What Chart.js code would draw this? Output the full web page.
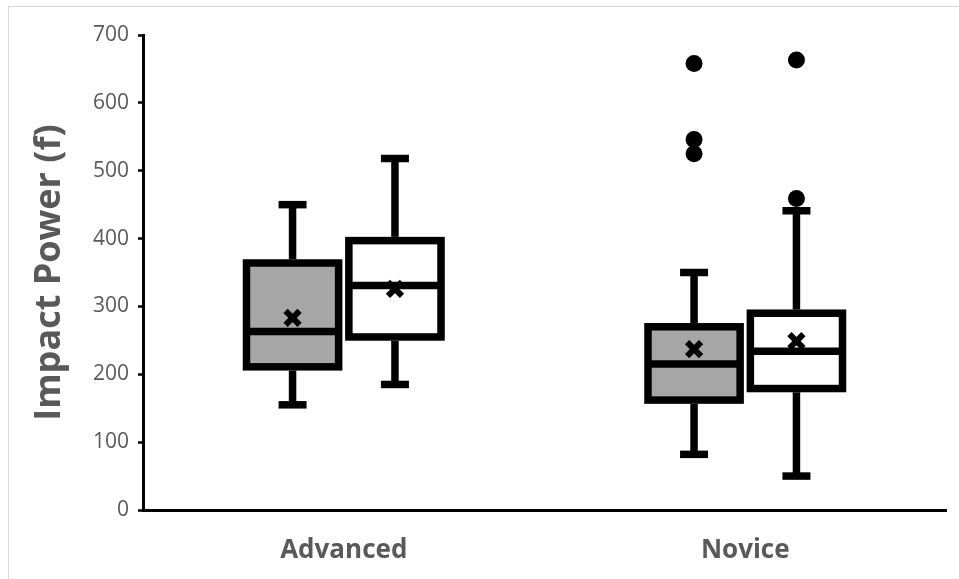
<!DOCTYPE html>
<html>
<head>
<meta charset="utf-8">
<script src="https://cdn.jsdelivr.net/npm/chart.js@4.4.0/dist/chart.umd.min.js"></script>
<style>
  html, body { margin: 0; padding: 0; background: #fff; }
  #wrap { position: relative; width: 959px; height: 579px; overflow: hidden; }
  #frame { position: absolute; left: 8px; top: 6px; right: -2px; bottom: -2px;
           border-top: 1px solid #d9d9d9; border-left: 1px solid #d9d9d9; }
  canvas { position: absolute; left: 0; top: 0; }
</style>
</head>
<body>
<div id="wrap">
  <div id="frame"></div>
  <canvas id="chart" width="959" height="579"></canvas>
</div>
<script>
//Kategorier och axel
const categories = ['Advanced', 'Novice'];
const yTicks = [0, 100, 200, 300, 400, 500, 600, 700];

//Grå serie (första boxen i varje grupp)
const grayMin = [155, 82];
const grayQ1 = [211, 162];
const grayMedian = [263, 215];
const grayQ3 = [364, 270];
const grayMax = [450, 350];
const grayMean = [283, 237];
const grayOutliers = [[], [658, 546, 525]];

//Vit serie (andra boxen i varje grupp)
const whiteMin = [185, 50];
const whiteQ1 = [255, 179];
const whiteMedian = [331, 234];
const whiteQ3 = [397, 290];
const whiteMax = [518, 441];
const whiteMean = [326, 249];
const whiteOutliers = [[], [663, 459]];

const series = [
  { min: grayMin, q1: grayQ1, med: grayMedian, q3: grayQ3, max: grayMax, mean: grayMean, out: grayOutliers },
  { min: whiteMin, q1: whiteQ1, med: whiteMedian, q3: whiteQ3, max: whiteMax, mean: whiteMean, out: whiteOutliers },
];

const LINE = 7.5;

//Ritar whiskers, kanter, median, medel och outliers
const boxPlot = {
  id: 'boxPlot',
  afterDatasetsDraw(chart) {
    const ctx = chart.ctx;
    const y = chart.scales.y;
    const seg = (x1, y1, x2, y2, w) => {
      ctx.lineWidth = w;
      ctx.beginPath();
      ctx.moveTo(x1, y1);
      ctx.lineTo(x2, y2);
      ctx.stroke();
    };
    ctx.save();
    ctx.strokeStyle = '#000';
    ctx.fillStyle = '#000';
    ctx.lineCap = 'butt';
    series.forEach((s, di) => {
      const meta = chart.getDatasetMeta(di);
      meta.data.forEach((bar, i) => {
        const x = bar.x;
        const w = bar.width;
        const top = y.getPixelForValue(s.q3[i]);
        const bot = y.getPixelForValue(s.q1[i]);
        const yMax = y.getPixelForValue(s.max[i]);
        const yMin = y.getPixelForValue(s.min[i]);

        //whiskers
        seg(x, top - LINE / 2, x, yMax, LINE);
        seg(x, bot + LINE / 2, x, yMin, LINE);
        seg(x - 14, yMax, x + 14, yMax, LINE);
        seg(x - 14, yMin, x + 14, yMin, LINE);

        //box
        ctx.lineWidth = LINE;
        ctx.strokeRect(x - w / 2, top, w, bot - top);

        //median
        const ym = y.getPixelForValue(s.med[i]);
        seg(x - w / 2, ym, x + w / 2, ym, LINE);

        //medel (kryss)
        const yMean = y.getPixelForValue(s.mean[i]);
        const h = 7;
        seg(x - h, yMean - h, x + h, yMean + h, 6);
        seg(x - h, yMean + h, x + h, yMean - h, 6);

        //outliers
        s.out[i].forEach((v) => {
          ctx.beginPath();
          ctx.arc(x, y.getPixelForValue(v), 8.5, 0, Math.PI * 2);
          ctx.fill();
        });
      });
    });
    ctx.restore();
  },
};

const chartData = {
  labels: categories,
  datasets: [
    {
      label: 'gray',
      data: categories.map((c, i) => [grayQ1[i], grayQ3[i]]),
      backgroundColor: '#a6a6a6',
      borderWidth: 0,
    },
    {
      label: 'white',
      data: categories.map((c, i) => [whiteQ1[i], whiteQ3[i]]),
      backgroundColor: '#ffffff',
      borderWidth: 0,
    },
  ],
};

const chartConfig = {
  type: 'bar',
  data: chartData,
  plugins: [boxPlot],
  options: {
    responsive: false,
    animation: false,
    categoryPercentage: 0.51,
    barPercentage: 0.9,
    layout: {
      padding: { top: 35, right: 13, left: 0, bottom: 0 },
    },
    plugins: {
      legend: { display: false },
      tooltip: { enabled: false },
    },
    scales: {
      x: {
        grid: { display: false, drawTicks: false },
        border: { display: true, color: '#000', width: 3 },
        ticks: {
          color: '#595959',
          padding: 25,
          font: { size: 26, weight: 'bold', family: '"Open Sans", sans-serif' },
        },
        afterFit: (scale) => { scale.height = 69; },
      },
      y: {
        min: 0,
        max: 700,
        afterBuildTicks: (scale) => { scale.ticks = yTicks.map((v) => ({ value: v })); },
        ticks: {
          color: '#595959',
          padding: 9,
          font: { size: 21, family: '"Open Sans", sans-serif' },
        },
        grid: {
          drawOnChartArea: false,
          drawTicks: true,
          tickLength: 5,
          tickColor: '#000',
          tickWidth: 2.5,
        },
        border: { display: true, color: '#000', width: 3 },
        title: {
          display: true,
          text: 'Impact Power (f)',
          color: '#595959',
          font: { size: 36, weight: 'bold', family: '"Open Sans", sans-serif' },
          padding: { top: 28, bottom: 0 },
        },
        afterFit: (scale) => { scale.width = 143; },
      },
    },
  },
};

window.mainChart = new Chart(document.getElementById('chart'), chartConfig);
</script>
</body>
</html>
